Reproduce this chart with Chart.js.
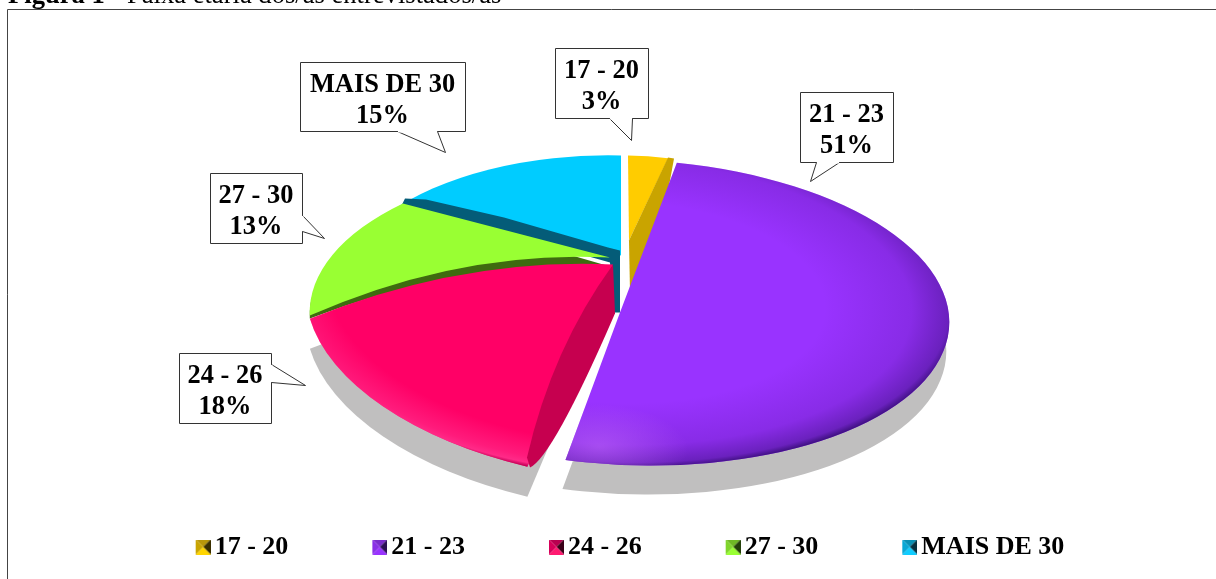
<!DOCTYPE html>
<html>
<head>
<meta charset="utf-8">
<title>Figura 1</title>
<script src="https://cdn.jsdelivr.net/npm/chart.js@4"></script>
<style>
  html, body { margin: 0; padding: 0; background: #fff; overflow: hidden; }
  canvas { display: block; }
</style>
</head>
<body>
<canvas id="pie-chart" width="1216" height="579"></canvas>
<script>
// Data
const ageGroups = ['17 - 20', '21 - 23', '24 - 26', '27 - 30', 'MAIS DE 30'];
const shares = [3, 51, 18, 13, 15];
const sliceColors = ['#ffcc00', '#9933ff', '#ff0066', '#99ff33', '#00ccff'];

const SERIF = '"Liberation Serif", "Times New Roman", serif';

// Fake 3D look: how each slice is tilted, relative to the arc centre chart.js gives us
// m = [xx, xy, yx, yy] maps the unit circle to the tilted ellipse
const pieShift = [29.5, -1];
const tilts = [
    { c: [7, 0], m: [214, 0, 0, 157], apex: [8, -72] },
    { c: [10, 0], m: [318, 3, 14, 153], apex: [-1, 0] },
    { c: [-10, 5], m: [305, 29.5, -8, 161.6], apex: [-8, -48], bendEnd: [-159, -55] },
    { c: [0, 0], m: [307, 25.6, -51.5, 150.4], apex: [-11, -55], bendStart: [-161, -63] },
    { c: [0, 0], m: [290, 7, 0, 157], apex: [0, -57] },
];
const drawOrder = [4, 3, 2, 0, 1];

// Callout boxes: box [x, y, w, h], tail [start, tip, end]
const callouts = [
    { box: [555, 48, 93, 70], tail: [[609, 118], [631, 140], [632, 118]] },
    { box: [800, 92, 93, 70], tail: [[816, 162], [810, 181], [839, 162]] },
    { box: [179, 353, 92, 70], tail: [[271, 364], [305, 385], [271, 382]] },
    { box: [210, 173, 92, 70], tail: [[302, 215], [324, 238], [302, 231]] },
    { box: [300, 62, 165, 69], tail: [[397, 131], [445, 152], [437, 131]] },
];

const tracePath = (ctx, arc, t, shift = [0, 0]) => {
    const ox = arc.x + pieShift[0] + shift[0];
    const oy = arc.y + pieShift[1] + shift[1];
    const cx = ox + t.c[0];
    const cy = oy + t.c[1];
    ctx.beginPath();
    ctx.moveTo(ox + t.apex[0], oy + t.apex[1]);
    if (t.bendStart) {
        const ux = Math.cos(arc.startAngle);
        const uy = Math.sin(arc.startAngle);
        ctx.quadraticCurveTo(ox + t.bendStart[0], oy + t.bendStart[1],
            cx + t.m[0] * ux + t.m[2] * uy, cy + t.m[1] * ux + t.m[3] * uy);
    }
    ctx.save();
    ctx.transform(t.m[0], t.m[1], t.m[2], t.m[3], cx, cy);
    ctx.arc(0, 0, 1, arc.startAngle, arc.endAngle);
    ctx.restore();
    if (t.bendEnd) {
        ctx.quadraticCurveTo(ox + t.bendEnd[0], oy + t.bendEnd[1], ox + t.apex[0], oy + t.apex[1]);
    }
    ctx.closePath();
};

// Shading painted in unit circle space so it follows the ellipse
const shade = (ctx, arc, t, cx, cy, radius, stops) => {
    const ox = arc.x + pieShift[0];
    const oy = arc.y + pieShift[1];
    ctx.save();
    tracePath(ctx, arc, t);
    ctx.clip();
    ctx.transform(t.m[0], t.m[1], t.m[2], t.m[3], ox + t.c[0], oy + t.c[1]);
    const grad = ctx.createRadialGradient(cx, cy, 0, cx, cy, radius);
    stops.forEach(([p, col]) => grad.addColorStop(p, col));
    ctx.fillStyle = grad;
    ctx.fillRect(-2, -2, 4, 4);
    ctx.restore();
};

const polygon = (ctx, arc, pts, color) => {
    const ox = arc.x + pieShift[0];
    const oy = arc.y + pieShift[1];
    ctx.fillStyle = color;
    ctx.beginPath();
    pts.forEach((p, i) => {
        if (p.length === 4) ctx.quadraticCurveTo(ox + p[0], oy + p[1], ox + p[2], oy + p[3]);
        else if (i === 0) ctx.moveTo(ox + p[0], oy + p[1]);
        else ctx.lineTo(ox + p[0], oy + p[1]);
    });
    ctx.closePath();
    ctx.fill();
};

const pie3d = {
    id: 'pie3d',
    beforeDraw(chart) {
        const ctx = chart.ctx;
        ctx.save();
        ctx.fillStyle = '#fff';
        ctx.fillRect(0, 0, chart.width, chart.height);
        // caption, cut by the top of the page as in the source
        ctx.fillStyle = '#000';
        ctx.textBaseline = 'alphabetic';
        ctx.font = 'bold 26.6px ' + SERIF;
        ctx.fillText('Figura 1', 8, 3);
        const w = ctx.measureText('Figura 1').width;
        ctx.font = '26.6px ' + SERIF;
        ctx.fillText(' - Faixa etária dos/as entrevistados/as', 8 + w, 3);
        // frame
        ctx.strokeStyle = '#444';
        ctx.lineWidth = 1;
        ctx.beginPath();
        ctx.moveTo(7.5, chart.height);
        ctx.lineTo(7.5, 9.5);
        ctx.lineTo(chart.width, 9.5);
        ctx.stroke();
        ctx.restore();
    },
    // slices are painted here, back to front, from the arcs chart.js has computed
    beforeDatasetDraw(chart) {
        const ctx = chart.ctx;
        const arcs = chart.getDatasetMeta(0).data;
        ctx.save();

        // shadow on the floor, only the two pulled out slices throw one
        ctx.fillStyle = '#c0bfbf';
        tracePath(ctx, arcs[2], tilts[2], [0, 30]);
        ctx.fill();
        tracePath(ctx, arcs[1], tilts[1], [-3, 29]);
        ctx.fill();

        drawOrder.forEach(i => {
            const arc = arcs[i];
            const t = tilts[i];
            if (i === 3) {
                // dark band under the green top face
                ctx.fillStyle = '#3f6b10';
                tracePath(ctx, arc, { ...t, apex: [-11, -49], bendStart: [-161, -55] }, [0, 3]);
                ctx.fill();
            }
            tracePath(ctx, arc, t);
            ctx.fillStyle = arc.options.backgroundColor;
            ctx.fill();
            if (i === 2) {
                shade(ctx, arc, t, -0.05, -0.1, 1.1, [
                    [0, 'rgba(255,60,150,0)'], [0.8, 'rgba(255,60,150,0)'], [0.93, 'rgba(255,60,150,0.45)'],
                    [0.965, 'rgba(255,60,150,0.7)'], [0.985, 'rgba(170,0,80,0.7)'], [1, 'rgba(130,0,60,1)'],
                ]);
                // side wall of the slice
                polygon(ctx, arc, [[-8, -48], [-6, 1], [-68, 144, -91, 155], [-94, 145], [-69, 36, -8, -48]], '#c6004f');
            }
            if (i === 4) {
                // teal wall and band along the green slice
                polygon(ctx, arc, [[-216, -114], [-195, -113], [-117, -95], [-13, -65], [-1, -62], [-1, 0], [-7, 0], [-11, -50], [-117, -80], [-219, -108]], '#045c78');
            }
            if (i === 0) {
                polygon(ctx, arc, [[8, -72], [47, -155], [53, -154], [49, -132], [39, -85], [22, -42], [9, -20]], '#c9a400');
            }
            if (i === 1) {
                shade(ctx, arc, t, -0.05, -0.07, 1.1, [
                    [0, 'rgba(60,10,120,0)'], [0.6, 'rgba(60,10,120,0)'], [0.85, 'rgba(60,10,120,0.18)'],
                    [0.955, 'rgba(60,15,125,0.5)'], [0.985, 'rgba(60,15,125,0.95)'], [1, 'rgba(45,10,100,1)'],
                ]);
                // soft light near the lower tip
                shade(ctx, arc, t, -0.14, 0.88, 0.28, [
                    [0, 'rgba(200,110,255,0.5)'], [1, 'rgba(200,110,255,0)'],
                ]);
            }
        });
        ctx.restore();
        return false;
    },
    afterDatasetsDraw(chart) {
        const ctx = chart.ctx;
        ctx.save();
        callouts.forEach((c, i) => {
            const [x, y, w, h] = c.box;
            ctx.beginPath();
            ctx.rect(x + 0.5, y + 0.5, w, h);
            ctx.fillStyle = '#fff';
            ctx.fill();
            ctx.strokeStyle = '#333';
            ctx.lineWidth = 1;
            ctx.stroke();
            // tail: cover the box line then stroke the two sides
            ctx.beginPath();
            ctx.moveTo(c.tail[0][0] + 0.5, c.tail[0][1] + 0.5);
            ctx.lineTo(c.tail[1][0] + 0.5, c.tail[1][1] + 0.5);
            ctx.lineTo(c.tail[2][0] + 0.5, c.tail[2][1] + 0.5);
            ctx.closePath();
            ctx.fill();
            ctx.beginPath();
            ctx.moveTo(c.tail[0][0] + 0.5, c.tail[0][1] + 0.5);
            ctx.lineTo(c.tail[1][0] + 0.5, c.tail[1][1] + 0.5);
            ctx.lineTo(c.tail[2][0] + 0.5, c.tail[2][1] + 0.5);
            ctx.stroke();
            ctx.fillStyle = '#fff';
            const horiz = c.tail[0][1] === c.tail[2][1];
            if (horiz) ctx.fillRect(Math.min(c.tail[0][0], c.tail[2][0]) + 1, c.tail[0][1], Math.abs(c.tail[2][0] - c.tail[0][0]) - 1, 1.5);
            else ctx.fillRect(c.tail[0][0], c.tail[0][1] + 1, 1.5, c.tail[2][1] - c.tail[0][1] - 1);

            ctx.fillStyle = '#000';
            ctx.font = 'bold 26.4px ' + SERIF;
            ctx.textAlign = 'center';
            ctx.textBaseline = 'alphabetic';
            ctx.fillText(ageGroups[i], x + w / 2, y + 30);
            ctx.fillText(shares[i] + '%', x + w / 2, y + 61);
        });
        ctx.restore();
    },
};

// little pyramid legend marker, drawn to the right of a wide transparent canvas
const makeMarker = (bottom, top, left, right) => {
    const cv = document.createElement('canvas');
    cv.width = 101;
    cv.height = 15;
    const ctx = cv.getContext('2d');
    const x0 = 86, x1 = 101, xm = 93.5;
    const tri = (col, ax, ay, bx, by) => {
        ctx.fillStyle = col;
        ctx.beginPath();
        ctx.moveTo(xm, 7.5);
        ctx.lineTo(ax, ay);
        ctx.lineTo(bx, by);
        ctx.closePath();
        ctx.fill();
    };
    tri(top, x0, 0, x1, 0);
    tri(right, x1, 0, x1, 15);
    tri(bottom, x1, 15, x0, 15);
    tri(left, x0, 15, x0, 0);
    return cv;
};
const markers = [
    makeMarker('#ffd500', '#b8960a', '#c9a400', '#3a2f00'),
    makeMarker('#9933ff', '#7a2bcc', '#8a30e6', '#2b0f55'),
    makeMarker('#ff1a70', '#b80050', '#d6005a', '#3a0018'),
    makeMarker('#99ff33', '#6fb825', '#80d52b', '#24400a'),
    makeMarker('#10ccff', '#0890b5', '#0aa8d5', '#06303f'),
];

new Chart(document.getElementById('pie-chart'), {
    type: 'pie',
    data: {
        labels: ageGroups,
        datasets: [{
            data: shares,
            backgroundColor: sliceColors,
            borderWidth: 0,
        }]
    },
    options: {
        responsive: false,
        animation: false,
        layout: { padding: { top: 100, right: 33, bottom: 9 } },
        plugins: {
            tooltip: { enabled: false },
            legend: {
                position: 'bottom',
                labels: {
                    usePointStyle: true,
                    pointStyleWidth: 83,
                    padding: 7,
                    color: '#000',
                    font: { family: SERIF, size: 26, weight: 'bold' },
                    generateLabels: () => ageGroups.map((text, i) => ({
                        text,
                        pointStyle: markers[i],
                        fontColor: '#000',
                        lineWidth: 0,
                        hidden: false,
                        index: i,
                    })),
                }
            }
        }
    },
    plugins: [pie3d],
});
</script>
</body>
</html>
